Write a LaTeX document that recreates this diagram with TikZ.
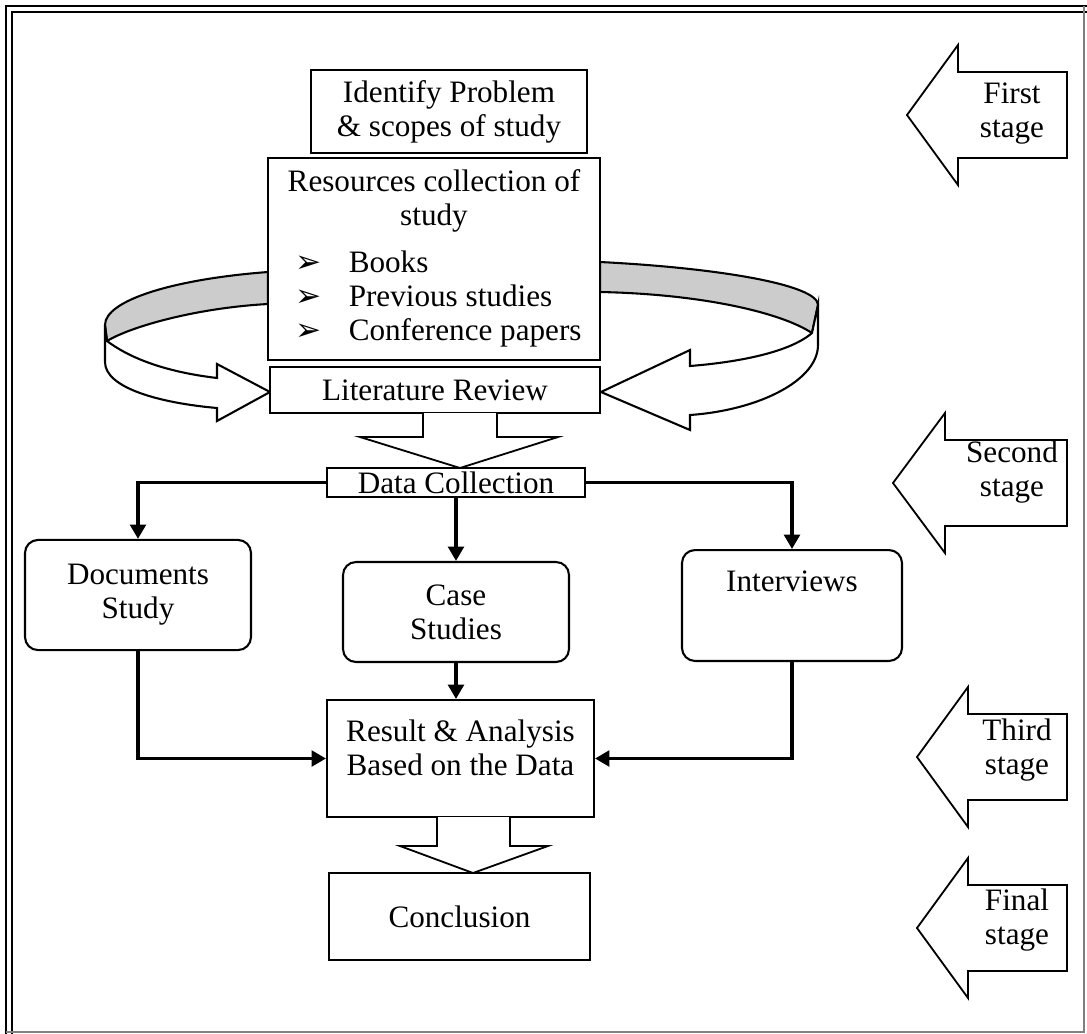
\documentclass[tikz,border=0pt]{standalone}
\usepackage{fontspec}
\setmainfont{Liberation Serif}
\newfontfamily\dejavu{DejaVu Sans}
\usetikzlibrary{shapes,arrows,arrows.meta,calc}
\tikzstyle{line} = [draw, line width=1.3pt, -{Triangle[width=6pt,length=5.5pt]}]
\tikzstyle{block} = [draw, rectangle, fill=white, line width=0.8pt, align=center, inner sep=0pt]
\tikzstyle{roundblock} = [draw, rectangle, rounded corners=5pt, line width=0.8pt, align=center, inner sep=0pt]
\tikzstyle{fat} = [draw, line width=0.7pt, fill=white, line join=miter]
\tikzstyle{ribbon} = [draw, line width=0.8pt]
\tikzstyle{stage} = [align=center, inner sep=0pt]
\newcommand{\bul}{{\dejavu\fontsize{12}{12}\selectfont ➢}}

\begin{document}
\begin{tikzpicture}[x=0.385pt, y=-0.385pt, font=\fontsize{12}{13.1}\selectfont]
        \useasboundingbox (0,0) rectangle (1087,1034);
        % page frame
        \draw[line width=1.1pt] (6,1034) -- (6,6) -- (1087,6);
        \draw[line width=0.9pt] (12,1034) -- (12,12) -- (1087,12);
        \draw[gray, line width=0.6pt] (1084,6) -- (1084,1032) -- (6,1032);
        % curved arrows round the resources
        \draw[ribbon, fill=gray!40] (268,272) .. controls (175,279) and (105,300) .. (105,325) -- (107,341) .. controls (130,327) and (195,308) .. (268,304) -- cycle;
        \draw[ribbon, fill=white] (107,341) .. controls (135,362) and (175,373) .. (217,378) -- (217,364) -- (270,392) -- (217,421) -- (217,408) .. controls (160,403) and (105,388) .. (105,362) -- (105,325) -- cycle;
        \draw[ribbon, fill=gray!40] (600,262) .. controls (720,268) and (818,285) .. (818,305) -- (812,333) .. controls (780,312) and (700,294) .. (600,292) -- cycle;
        \draw[ribbon, fill=white] (812,333) .. controls (790,352) and (740,362) .. (690,366) -- (690,350) -- (601,392) -- (690,430) -- (690,415) .. controls (760,410) and (818,380) .. (818,345) -- (818,305) -- cycle;

        \node[block, minimum width=106.3pt, minimum height=32pt] (identify) at (449,111.5) {Identify Problem\\\& scopes of study};
        \node[block, minimum width=127.8pt, minimum height=77.8pt] (res) at (434,259) {\begin{tabular}{@{}l@{}}
            \multicolumn{1}{@{}c@{}}{Resources collection of}\\
            \multicolumn{1}{@{}c@{}}{study}\\[5pt]
            \hspace*{3.5pt}\makebox[20.5pt][l]{\bul}Books\\
            \hspace*{3.5pt}\makebox[20.5pt][l]{\bul}Previous studies\\
            \hspace*{3.5pt}\makebox[20.5pt][l]{\bul}Conference papers
        \end{tabular}};
        \node[block, minimum width=127.1pt, minimum height=17.7pt] (lit) at (435,390) {Literature Review};
        \node[block, minimum width=99.3pt, minimum height=11.2pt] (data) at (456,482.5) {Data Collection};
        \node[roundblock, minimum width=87pt, minimum height=42.4pt] (docs) at (138,595) {Documents\\Study};
        \node[roundblock, minimum width=87pt, minimum height=38.5pt] (case) at (456,612) {Case\\Studies};
        \node[roundblock, minimum width=84.7pt, minimum height=42.7pt] (intv) at (792,605.5) {Interviews\\[6pt]\mbox{}};
        \node[block, minimum width=102.8pt, minimum height=45pt] (result) at (460.5,758.5) {Result \& Analysis\\Based on the Data\\[-5pt]\mbox{}};
        \node[block, minimum width=100.5pt, minimum height=33.5pt] (concl) at (459.5,916.5) {Conclusion};

        % block arrows
        \draw[fat] (423,413) -- (423,437) -- (360,437) -- (460,468) -- (558,437) -- (497,437) -- (497,413);
        \draw[fat] (437,817) -- (437,846) -- (400,846) -- (473,873) -- (548,846) -- (510,846) -- (510,817);

        \path[line] (data.west) -| (docs.north);
        \path[line] (data.south) -- (case.north);
        \path[line] (data.east) -| (intv.north);
        \path[line] (case.south) -- (case.south |- result.north);
        \path[line] (docs.south) |- (result.west);
        \path[line] (intv.south) |- (result.east);

        % stages
        \draw[fat] (907,115) -- (958,45) -- (958,72) -- (1067,72) -- (1067,158) -- (958,158) -- (958,185) -- cycle;
        \draw[fat] (893,483) -- (945,413) -- (945,440) -- (1067,440) -- (1067,526) -- (945,526) -- (945,553) -- cycle;
        \draw[fat] (917,757) -- (968,687) -- (968,714) -- (1067,714) -- (1067,800) -- (968,800) -- (968,827) -- cycle;
        \draw[fat] (917,928) -- (968,858) -- (968,885) -- (1067,885) -- (1067,971) -- (968,971) -- (968,998) -- cycle;
        \node[stage] (first) at (1012,113.5) {First\\stage};
        \node[stage] (second) at (1012,472) {Second\\stage};
        \node[stage] (third) at (1017,750) {Third\\stage};
        \node[stage] (final) at (1017,920) {Final\\stage};
    \end{tikzpicture}
\end{document}
